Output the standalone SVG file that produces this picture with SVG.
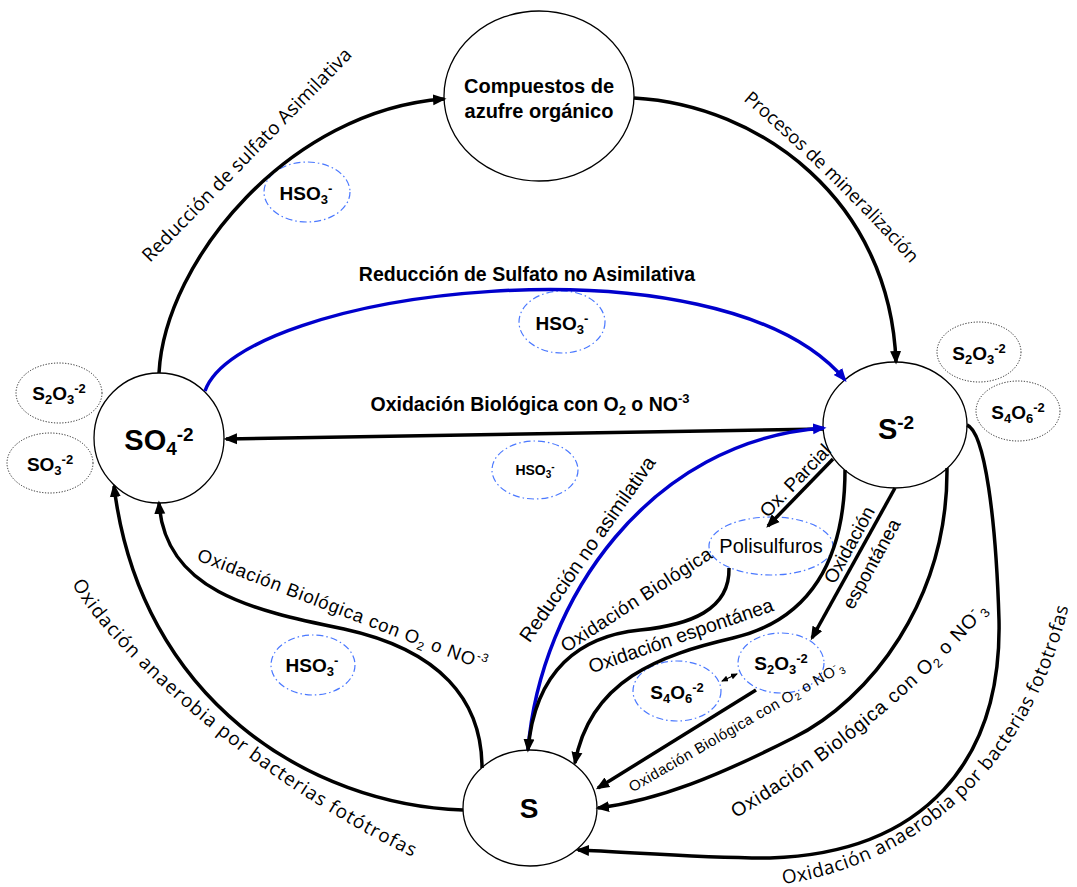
<svg xmlns="http://www.w3.org/2000/svg" width="1077" height="887" viewBox="0 0 1077 887">
<defs>
<style>
.node{fill:#fff;stroke:#000;stroke-width:1.3}
.dot{fill:#fff;stroke:#222;stroke-width:1;stroke-dasharray:1.2 1.6}
.dd{fill:none;stroke:#4a78ff;stroke-width:1.2;stroke-dasharray:7 3 1.5 3}
.c{fill:none;stroke:#000;stroke-width:3.5}
.cb{fill:none;stroke:#0000cc;stroke-width:3.5}
.thin{fill:none;stroke:#000;stroke-width:1.3}
.ar{font-family:"Liberation Sans",Arial,sans-serif;fill:#000}
.b{font-weight:bold}
.wa{font-family:"Open Sans","DejaVu Sans",sans-serif;fill:#000}
</style>
<marker id="ah" markerUnits="userSpaceOnUse" markerWidth="14" markerHeight="12" refX="11" refY="6" orient="auto"><path d="M0,0.5 L13.5,6 L0,11.5 z" fill="#000"/></marker>
<marker id="ahb" markerUnits="userSpaceOnUse" markerWidth="14" markerHeight="12" refX="11" refY="6" orient="auto"><path d="M0,0.5 L13.5,6 L0,11.5 z" fill="#0000cc"/></marker>
<marker id="sm" markerUnits="userSpaceOnUse" markerWidth="7" markerHeight="6" refX="6" refY="3" orient="auto-start-reverse"><path d="M0,0 L7,3 L0,6 z" fill="#000"/></marker>
<path id="tp-pm" d="M743,100 Q828,172 920,274"/>
<path id="tp-la" d="M72,584 C 115,660 270,790 415,858"/>
<path id="tp-ra" d="M783,884 C 890,870 1028,790 1070,600"/>
<path id="tp-obr" d="M736,818 C 820,770 920,690 988,610"/>
</defs>

<g id="node-compuestos">
<ellipse class="node" cx="539" cy="96" rx="95" ry="85"/>
<text class="ar b" font-size="20" text-anchor="middle"><tspan x="539" y="93">Compuestos de</tspan><tspan x="539" y="118">azufre orgánico</tspan></text>
</g>
<g id="node-so4">
<circle class="node" cx="159" cy="438" r="65"/>
<text class="ar b" x="159" y="450" font-size="29" text-anchor="middle">SO<tspan font-size="19" dy="5">4</tspan><tspan font-size="19" dy="-14">-2</tspan></text>
</g>
<g id="node-s2">
<ellipse class="node" cx="895" cy="425" rx="72" ry="63"/>
<text class="ar b" x="896" y="439" font-size="29" text-anchor="middle">S<tspan font-size="19" dy="-10">-2</tspan></text>
</g>
<g id="node-s">
<ellipse class="node" cx="530" cy="808" rx="67" ry="58"/>
<text class="ar b" x="529" y="818" font-size="28" text-anchor="middle">S</text>
</g>

<g id="node-s2o3-left">
<ellipse class="dot" cx="59" cy="393" rx="43" ry="30"/>
<text class="ar b" x="59" y="400" font-size="19" text-anchor="middle">S<tspan font-size="13" dy="4">2</tspan><tspan dy="-4">O</tspan><tspan font-size="13" dy="4">3</tspan><tspan font-size="13" dy="-11">-2</tspan></text>
</g>
<g id="node-so3-left">
<ellipse class="dot" cx="50" cy="463" rx="43" ry="30"/>
<text class="ar b" x="50" y="471" font-size="19" text-anchor="middle">SO<tspan font-size="13" dy="4">3</tspan><tspan font-size="13" dy="-11">-2</tspan></text>
</g>
<g id="node-s2o3-right">
<ellipse class="dot" cx="979" cy="352" rx="42" ry="30"/>
<text class="ar b" x="979" y="360" font-size="19" text-anchor="middle">S<tspan font-size="13" dy="4">2</tspan><tspan dy="-4">O</tspan><tspan font-size="13" dy="4">3</tspan><tspan font-size="13" dy="-11">-2</tspan></text>
</g>
<g id="node-s4o6-right">
<ellipse class="dot" cx="1018" cy="411" rx="42" ry="30"/>
<text class="ar b" x="1018" y="419" font-size="19" text-anchor="middle">S<tspan font-size="13" dy="4">4</tspan><tspan dy="-4">O</tspan><tspan font-size="13" dy="4">6</tspan><tspan font-size="13" dy="-11">-2</tspan></text>
</g>

<g id="node-hso3-top">
<ellipse class="dd" cx="307" cy="192" rx="43" ry="30"/>
<text class="ar b" x="306" y="200" font-size="19" text-anchor="middle">HSO<tspan font-size="13" dy="4">3</tspan><tspan font-size="13" dy="-11">-</tspan></text>
</g>
<g id="node-hso3-mid">
<ellipse class="dd" cx="562" cy="322" rx="43" ry="31"/>
<text class="ar b" x="562" y="330" font-size="19" text-anchor="middle">HSO<tspan font-size="13" dy="4">3</tspan><tspan font-size="13" dy="-11">-</tspan></text>
</g>
<g id="node-hso3-low">
<ellipse class="dd" cx="535" cy="470" rx="43" ry="29"/>
<text class="ar b" x="535" y="475" font-size="14" text-anchor="middle">HSO<tspan font-size="10" dy="3">3</tspan><tspan font-size="10" dy="-8">-</tspan></text>
</g>
<g id="node-hso3-bl">
<ellipse class="dd" cx="313" cy="665" rx="42" ry="30"/>
<text class="ar b" x="312" y="672" font-size="19" text-anchor="middle">HSO<tspan font-size="13" dy="4">3</tspan><tspan font-size="13" dy="-11">-</tspan></text>
</g>
<g id="node-polisulfuros">
<ellipse class="dd" cx="771" cy="546" rx="62" ry="29"/>
<text class="ar" x="771" y="553" font-size="20" text-anchor="middle">Polisulfuros</text>
</g>
<g id="node-s2o3-low">
<ellipse class="dd" cx="781" cy="663" rx="43" ry="30"/>
<text class="ar b" x="781" y="670" font-size="19" text-anchor="middle">S<tspan font-size="13" dy="4">2</tspan><tspan dy="-4">O</tspan><tspan font-size="13" dy="4">3</tspan><tspan font-size="13" dy="-11">-2</tspan></text>
</g>
<g id="node-s4o6-low">
<ellipse class="dd" cx="677" cy="691" rx="44" ry="30"/>
<text class="ar b" x="677" y="699" font-size="19" text-anchor="middle">S<tspan font-size="13" dy="4">4</tspan><tspan dy="-4">O</tspan><tspan font-size="13" dy="4">6</tspan><tspan font-size="13" dy="-11">-2</tspan></text>
</g>

<g id="connectors">
<path class="c" d="M159,373 C 165,260 290,110 444,99" marker-end="url(#ah)"/>
<path class="c" d="M634,98 C 760,105 890,200 896,362" marker-end="url(#ah)"/>
<path class="cb" d="M205,391 C 240,290 720,230 845,380" marker-end="url(#ahb)"/>
<path class="c" d="M824,429 L226,439" marker-end="url(#ah)"/>
<path class="cb" d="M528,750 C 540,600 650,440 824,428" marker-end="url(#ahb)"/>
<path class="c" d="M833,459 L768,526" marker-end="url(#ah)"/>
<path class="c" d="M729,568 C 730,610 690,625 640,630 C 580,636 535,670 528,750" marker-end="url(#ah)"/>
<path class="c" d="M845,470 C 845,560 810,620 733,638 C 660,655 590,680 575,763" marker-end="url(#ah)"/>
<path class="c" d="M895,488 L812,638" marker-end="url(#ah)"/>
<path class="c" d="M756,690 L598,788" marker-end="url(#ah)"/>
<path class="thin" d="M722,681 L737,674" marker-start="url(#sm)" marker-end="url(#sm)"/>
<path class="c" d="M947,468 C 948,600 870,700 793,738 C 720,775 660,800 598,808" marker-end="url(#ah)"/>
<path class="c" d="M967,425 C 985,432 996,520 999,620 C 1002,760 925,853 770,858 C 700,858 630,852 578,850" marker-end="url(#ah)"/>
<path class="c" d="M482,768 C 482,700 440,650 344,629 C 250,610 165,590 159,503" marker-end="url(#ah)"/>
<path class="c" d="M463,810 C 310,805 140,700 114,486" marker-end="url(#ah)"/>
</g>

<g id="connector-labels">
<text class="wa" x="150" y="263" font-size="19" textLength="290" lengthAdjust="spacing" transform="rotate(-45.6 150 263)">Reducción de sulfato Asimilativa</text>
<text class="wa" font-size="18.5"><textPath href="#tp-pm">Procesos de mineralización</textPath></text>
<text class="ar b" x="527" y="281" font-size="19.5" text-anchor="middle">Reducción de Sulfato no Asimilativa</text>
<text class="ar b" x="530" y="411" font-size="19.5" text-anchor="middle">Oxidación Biológica con O<tspan font-size="13" dy="4">2</tspan><tspan dy="-4"> o NO</tspan><tspan font-size="13" dy="-8">-3</tspan></text>
<text class="ar" x="593" y="553" font-size="20" text-anchor="middle" transform="rotate(-55 593 553)">Reducción no asimilativa</text>
<text class="ar" x="800" y="485" font-size="19" text-anchor="middle" transform="rotate(-46 800 485)">Ox. Parcial</text>
<text class="ar" x="640" y="605" font-size="19" letter-spacing="0.5" text-anchor="middle" transform="rotate(-33 640 605)">Oxidación Biológica</text>
<text class="ar" x="683" y="642" font-size="19.5" text-anchor="middle" transform="rotate(-19 683 642)">Oxidación espontánea</text>
<text class="ar" x="855" y="548" font-size="19" text-anchor="middle" transform="rotate(-61 855 548)">Oxidación</text>
<text class="ar" x="877" y="567" font-size="19" text-anchor="middle" transform="rotate(-61 877 567)">espontánea</text>
<text class="ar" x="739" y="731" font-size="15" letter-spacing="0.5" text-anchor="middle" transform="rotate(-30 739 731)">Oxidación Biológica con O<tspan font-size="10" dy="3">2</tspan><tspan dy="-3"> o NO</tspan><tspan font-size="10" dy="-6">-</tspan><tspan font-size="10" dy="9">3</tspan></text>
<text class="ar" font-size="19.5" letter-spacing="0.9"><textPath href="#tp-obr">Oxidación Biológica con O<tspan font-size="13" dy="4">2</tspan><tspan dy="-4"> o NO</tspan><tspan font-size="13" dy="-8">-</tspan><tspan font-size="13" dy="12">3</tspan></textPath></text>
<text class="ar" x="196" y="560" font-size="18.5" letter-spacing="0.8" transform="rotate(21 196 560)">Oxidación Biológica con O<tspan font-size="12" dy="4">2</tspan><tspan dy="-4"> o NO</tspan><tspan font-size="12" dy="-8">-3</tspan></text>
<text class="wa" font-size="19" letter-spacing="1"><textPath href="#tp-la">Oxidación anaerobia por bacterias fotótrofas</textPath></text>
<text class="wa" font-size="19" letter-spacing="0.6"><textPath href="#tp-ra">Oxidación anaerobia por bacterias fototrofas</textPath></text>
</g>
</svg>
